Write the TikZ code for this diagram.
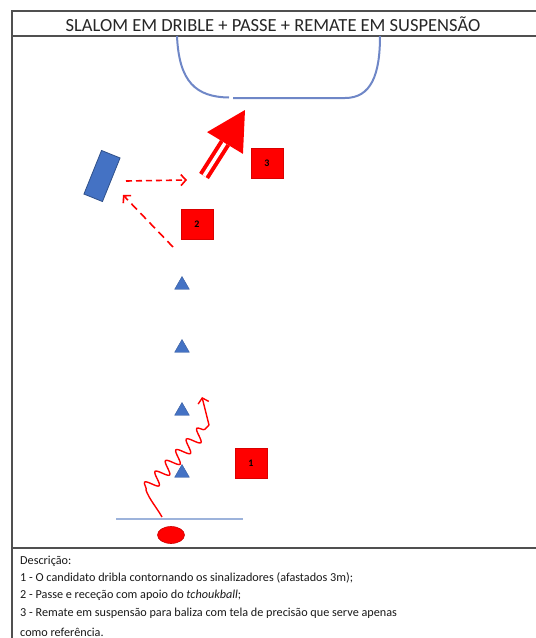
\documentclass[tikz,border=0pt]{standalone}
\usepackage{fontspec}
\setmainfont{Carlito}
\usetikzlibrary{shapes.geometric,arrows.meta,decorations.pathmorphing,calc}
\definecolor{framegray}{HTML}{505050}
\definecolor{titlegray}{HTML}{262626}
\definecolor{goalblue}{HTML}{6F87C7}
\definecolor{coneblue}{HTML}{4472C4}
\definecolor{baseline}{HTML}{9DB3DB}
\definecolor{hotred}{HTML}{FF0000}
\begin{document}
\begin{tikzpicture}[x=1pt,y=-1pt,
  frame/.style={draw=framegray,line width=1.6pt},
  goalline/.style={draw=goalblue,line width=2pt},
  cone/.style={regular polygon,regular polygon sides=3,fill=coneblue,draw=coneblue!80!black,
    line width=0.4pt,minimum size=17pt,inner sep=0pt},
  tag/.style={fill=hotred,draw=hotred!85!black,line width=0.4pt,minimum width=32pt,minimum height=30pt,
    inner sep=0pt,font=\fontsize{10}{10}\selectfont\bfseries,text=black},
  passline/.style={draw=hotred,line width=1.6pt,dash pattern=on 6pt off 4pt,
    -{Straight Barb[length=5pt,width=11pt]}},
  desc/.style={anchor=base west,inner sep=0pt,font=\fontsize{12.2}{14}\selectfont,text=black!90}]
\useasboundingbox (0,0) rectangle (536,638);
\clip (0,0) rectangle (536,638);

% frame, title row and description row
\draw[frame] (12,650) -- (12,11) -- (545,11);
\draw[frame] (12,36) -- (545,36);
\draw[frame] (12,548) -- (545,548);
\node[font=\fontsize{18.5}{20}\selectfont,text=titlegray,inner sep=0pt] (title) at (273,24)
  {SLALOM EM DRIBLE + PASSE + REMATE EM SUSPENSÃO};

% goal area
\draw[goalline] (177,36) .. controls (179,82) and (196,97) .. (229,97.5);
\draw[goalline] (233,98) -- (345,98) .. controls (371,98) and (380,75) .. (380,36);

% starting line and ball
\draw[draw=baseline,line width=1.6pt] (116,519) -- (243,519);
\node[ellipse,fill=hotred,draw=hotred!80!black,line width=0.6pt,minimum width=27pt,
  minimum height=17pt,inner sep=0pt] (ball) at (171,535) {};

% slalom cones
\node[cone] (c1) at (182,285) {};
\node[cone] (c2) at (182,348) {};
\node[cone] (c3) at (182,411) {};
\node[cone] (c4) at (182,473) {};

% dribble path
\coordinate (w0) at (162,517);
\coordinate (w1) at (146,490);
\coordinate (w2) at (209,425);
\coordinate (w3) at (202,397);
\draw[hotred,line width=1.4pt] (w0) .. controls (157,508) and (149,499) .. (w1);
\draw[hotred,line width=1.4pt,decorate,
  decoration={snake,amplitude=6.5pt,segment length=15pt}] (w1) -- (w2);
\draw[hotred,line width=1.4pt,-{Straight Barb[length=5pt,width=11pt]}] (w2) -- (w3);

% rebound frame
\node[fill=coneblue,draw=coneblue!70!black,line width=0.8pt,minimum width=20pt,
  minimum height=47pt,inner sep=0pt,rotate=-22] (tb) at (102,176) {};

% pass to the frame and return
\coordinate (p0) at (173,247);
\coordinate (p1) at (123,195);
\coordinate (q0) at (126,181);
\coordinate (q1) at (187,180);
\draw[passline,dash pattern=on 8pt off 5pt] (p0) -- (p1);
\draw[passline] (q0) -- (q1);

% shot towards the goal
\coordinate (s0) at (204,176);
\coordinate (s1) at (225,143);
\coordinate (tip) at (245,110);
\draw[hotred,line width=4pt,double=white,double distance=3.5pt] (s0) -- (s1);
\fill[hotred] (tip) -- ($(s1)!21pt!90:(tip)$) -- ($(s1)!21pt!-90:(tip)$) -- cycle;

% step labels
\node[tag] (t1) at (251,463) {1};
\node[tag] (t2) at (197,224) {2};
\node[tag] (t3) at (267,163) {3};

% description
\node[desc] (d0) at (20,564) {Descrição:};
\node[desc] (d1) at (20,581) {1 - O candidato dribla contornando os sinalizadores (afastados 3m);};
\node[desc] (d2) at (20,598) {2 - Passe e receção com apoio do \textit{tchoukball};};
\node[desc] (d3) at (20,616) {3 - Remate em suspensão para baliza com tela de precisão que serve apenas};
\node[desc] (d4) at (20,636) {como referência.};
\end{tikzpicture}
\end{document}
